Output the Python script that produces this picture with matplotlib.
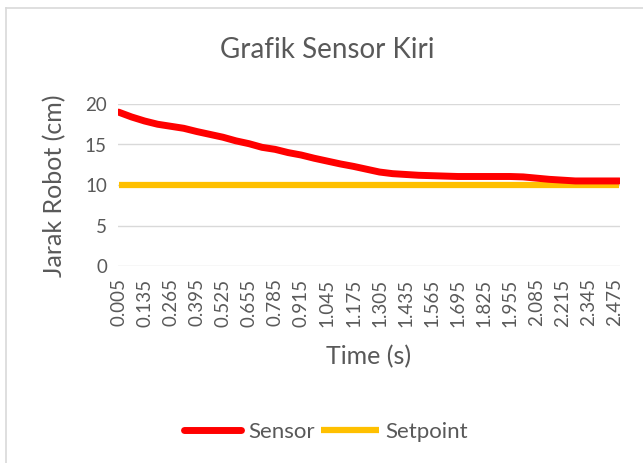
import matplotlib
matplotlib.use('Agg')
import matplotlib.pyplot as plt
from matplotlib.lines import Line2D
import numpy as np

# time (s) samples
times = [0.005, 0.07, 0.135, 0.2, 0.265, 0.33, 0.395, 0.46, 0.525, 0.59,
         0.655, 0.72, 0.785, 0.85, 0.915, 0.98, 1.045, 1.11, 1.175, 1.24,
         1.305, 1.37, 1.435, 1.5, 1.565, 1.63, 1.695, 1.76, 1.825, 1.89,
         1.955, 2.02, 2.085, 2.15, 2.215, 2.28, 2.345, 2.41, 2.475, 2.5]
sensor = [19.0, 18.4, 17.9, 17.5, 17.25, 17.0, 16.6, 16.25, 15.9, 15.45,
          15.1, 14.65, 14.4, 14.0, 13.7, 13.3, 12.95, 12.6, 12.3, 11.95,
          11.6, 11.4, 11.3, 11.2, 11.15, 11.1, 11.05, 11.05, 11.05, 11.05,
          11.05, 11.0, 10.85, 10.7, 10.6, 10.5, 10.5, 10.5, 10.5, 10.5]
setpoint = [10] * len(times)
tick_times = [0.005, 0.135, 0.265, 0.395, 0.525, 0.655, 0.785, 0.915, 1.045,
              1.175, 1.305, 1.435, 1.565, 1.695, 1.825, 1.955, 2.085, 2.215,
              2.345, 2.475]

plt.rcParams['font.family'] = ['Lato', 'DejaVu Sans']
grey = '#595959'
W, H = 643, 463

fig = plt.figure(figsize=(6.43, 4.63), dpi=100)
ax = fig.add_axes([118 / W, 1 - 266 / H, (620 - 118) / W, (266 - 104) / H])

ax.plot(times, sensor, color='#ff0000', lw=5, solid_capstyle='round', label='Sensor', zorder=3)
ax.plot(times, setpoint, color='#ffc000', lw=4.5, solid_capstyle='butt', label='Setpoint', zorder=2)

ax.set_xlim(0.0025, 2.5025)
ax.set_ylim(0, 20)
ax.set_yticks([0, 5, 10, 15, 20])
ax.set_xticks(tick_times)
ax.set_xticklabels(['%.3f' % t for t in tick_times], rotation=90)
ax.grid(axis='y', color='#d9d9d9', lw=1)
ax.set_axisbelow(True)
for s in ax.spines.values():
    s.set_visible(False)
ax.tick_params(axis='x', length=0, labelsize=13.5, colors=grey, pad=9)
ax.tick_params(axis='y', length=0, labelsize=13.5, colors=grey, pad=8)

fig.text(327 / W, 1 - 50 / H, 'Grafik Sensor Kiri', fontsize=20, color=grey,
         ha='center', va='center')
fig.text(55 / W, 1 - 186 / H, 'Jarak Robot (cm)', fontsize=18, color=grey,
         ha='center', va='center', rotation=90)
fig.text(369 / W, 1 - 357 / H, 'Time (s)', fontsize=18, color=grey,
         ha='center', va='center')

fig.legend(loc='center', bbox_to_anchor=(326 / W, 1 - 432 / H), ncol=2,
           frameon=False, fontsize=16, labelcolor=grey, handlelength=2.6,
           handletextpad=0.3, columnspacing=0.3)

# chart area outline (left and top only visible)
fig.add_artist(Line2D([6 / W, 6 / W], [0, 1 - 8 / H], transform=fig.transFigure, color='#d9d9d9', lw=1.2))
fig.add_artist(Line2D([6 / W, 1], [1 - 8 / H, 1 - 8 / H], transform=fig.transFigure, color='#d9d9d9', lw=1.2))

fig.savefig('out.png', dpi=100)
